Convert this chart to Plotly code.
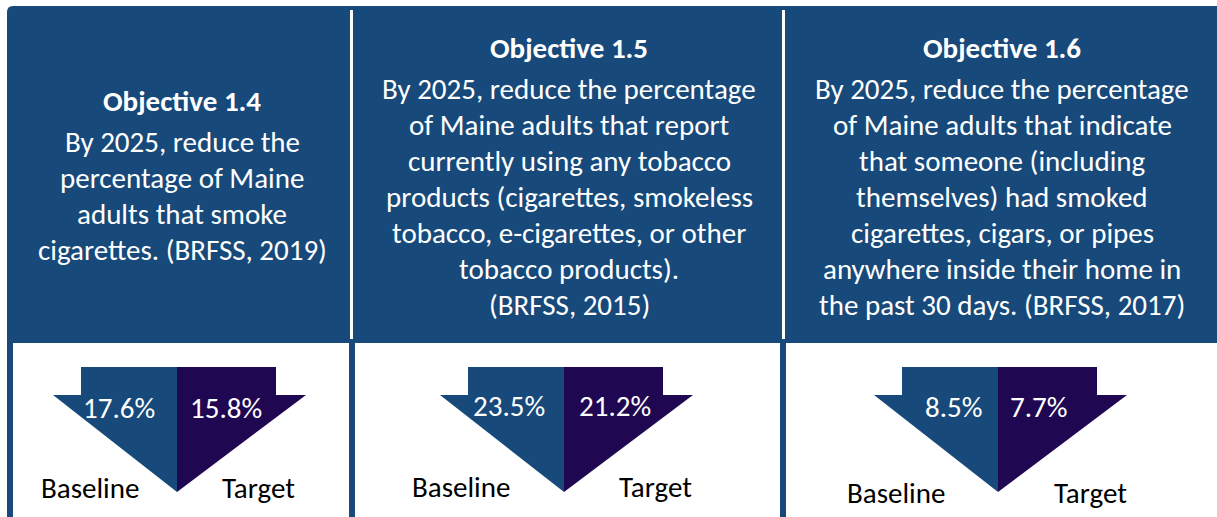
import plotly.graph_objects as go

# ---------------- data ----------------
objectives = ["Objective 1.4", "Objective 1.5", "Objective 1.6"]
descriptions = [
    ["By 2025, reduce the", "percentage of Maine", "adults that smoke",
     "cigarettes. (BRFSS, 2019)"],
    ["By 2025, reduce the percentage", "of Maine adults that report",
     "currently using any tobacco", "products (cigarettes, smokeless",
     "tobacco, e-cigarettes, or other", "tobacco products).", "(BRFSS, 2015)"],
    ["By 2025, reduce the percentage", "of Maine adults that indicate",
     "that someone (including", "themselves) had smoked",
     "cigarettes, cigars, or pipes", "anywhere inside their home in",
     "the past 30 days. (BRFSS, 2017)"],
]
baseline = [17.6, 23.5, 8.5]
target = [15.8, 21.2, 7.7]
labels = ["Baseline", "Target"]

# ---------------- style / layout ----------------
W, H = 1217, 517
BLUE = "#174A7A"
PURPLE = "#1F0851"
FONT = "Carlito, Calibri, Lato, sans-serif"
FS = 29

panel_text_x = [182, 569, 1002]
title_y = [101, 48, 48]
line_gap = 36
arrow_cx = [177, 564, 998]          # split line of each arrow
pct_dx = [(-58, 49), (-55, 51), (-45, 40)]
label_pos = [((90, 488), (258, 488)), ((461, 487), (655, 487)), ((896, 493), (1090, 493))]
pct_y = [408, 406, 407]

fig = go.Figure()
shapes = []
ann = []

# background blue frame
shapes.append(dict(type="path",
                   path=f"M 7 {H} L 7 12 Q 7 6 13 6 L {W} 6 L {W} {H} Z",
                   fillcolor=BLUE, line=dict(width=0), layer="below"))
# white separators in header
for sx in (350, 782):
    shapes.append(dict(type="rect", x0=sx, x1=sx + 3, y0=10, y1=339,
                       fillcolor="white", line=dict(width=0), layer="below"))
# white lower boxes
for x0, x1 in ((13, 349), (355, 780), (786, W)):
    shapes.append(dict(type="rect", x0=x0, x1=x1, y0=343, y1=H,
                       fillcolor="white", line=dict(width=0), layer="below"))

# arrows
stem_half_l, stem_half_r = 96, 99
tri_half_l, tri_half_r = 124, 129
y_top, y_mid, y_tip = 367, 395, 492
for i, cx in enumerate(arrow_cx):
    left = (f"M {cx-stem_half_l} {y_top} L {cx} {y_top} L {cx} {y_tip} "
            f"L {cx-tri_half_l} {y_mid} L {cx-stem_half_l} {y_mid} Z")
    right = (f"M {cx} {y_top} L {cx+stem_half_r} {y_top} L {cx+stem_half_r} {y_mid} "
             f"L {cx+tri_half_r} {y_mid} L {cx} {y_tip} Z")
    shapes.append(dict(type="path", path=left, fillcolor=BLUE, line=dict(width=0)))
    shapes.append(dict(type="path", path=right, fillcolor=PURPLE, line=dict(width=0)))

# header text
for i in range(3):
    ann.append(dict(x=panel_text_x[i], y=title_y[i], text=f"<b>{objectives[i]}</b>",
                    showarrow=False, xanchor="center", yanchor="middle",
                    font=dict(family=FONT, size=FS, color="white")))
    for j, line in enumerate(descriptions[i]):
        ann.append(dict(x=panel_text_x[i], y=title_y[i] + 41 + j * line_gap, text=line,
                        showarrow=False, xanchor="center", yanchor="middle",
                        font=dict(family=FONT, size=FS, color="white")))

# values and labels
for i, cx in enumerate(arrow_cx):
    for val, dx in zip((baseline[i], target[i]), pct_dx[i]):
        ann.append(dict(x=cx + dx, y=pct_y[i], text=f"{val:.1f}%", showarrow=False,
                        xanchor="center", yanchor="middle",
                        font=dict(family=FONT, size=FS, color="white")))
    for lab, (lx, ly) in zip(labels, label_pos[i]):
        ann.append(dict(x=lx, y=ly, text=lab, showarrow=False,
                        xanchor="center", yanchor="middle",
                        font=dict(family=FONT, size=FS, color="black")))

fig.update_layout(
    width=W, height=H, margin=dict(l=0, r=0, t=0, b=0),
    paper_bgcolor="white", plot_bgcolor="white",
    xaxis=dict(range=[0, W], visible=False, fixedrange=True),
    yaxis=dict(range=[H, 0], visible=False, fixedrange=True),
    shapes=shapes, annotations=ann, showlegend=False,
)

fig.write_html("out.html", config={"displayModeBar": False},
               post_script="document.body.style.margin='0';document.body.style.overflow='hidden';")
